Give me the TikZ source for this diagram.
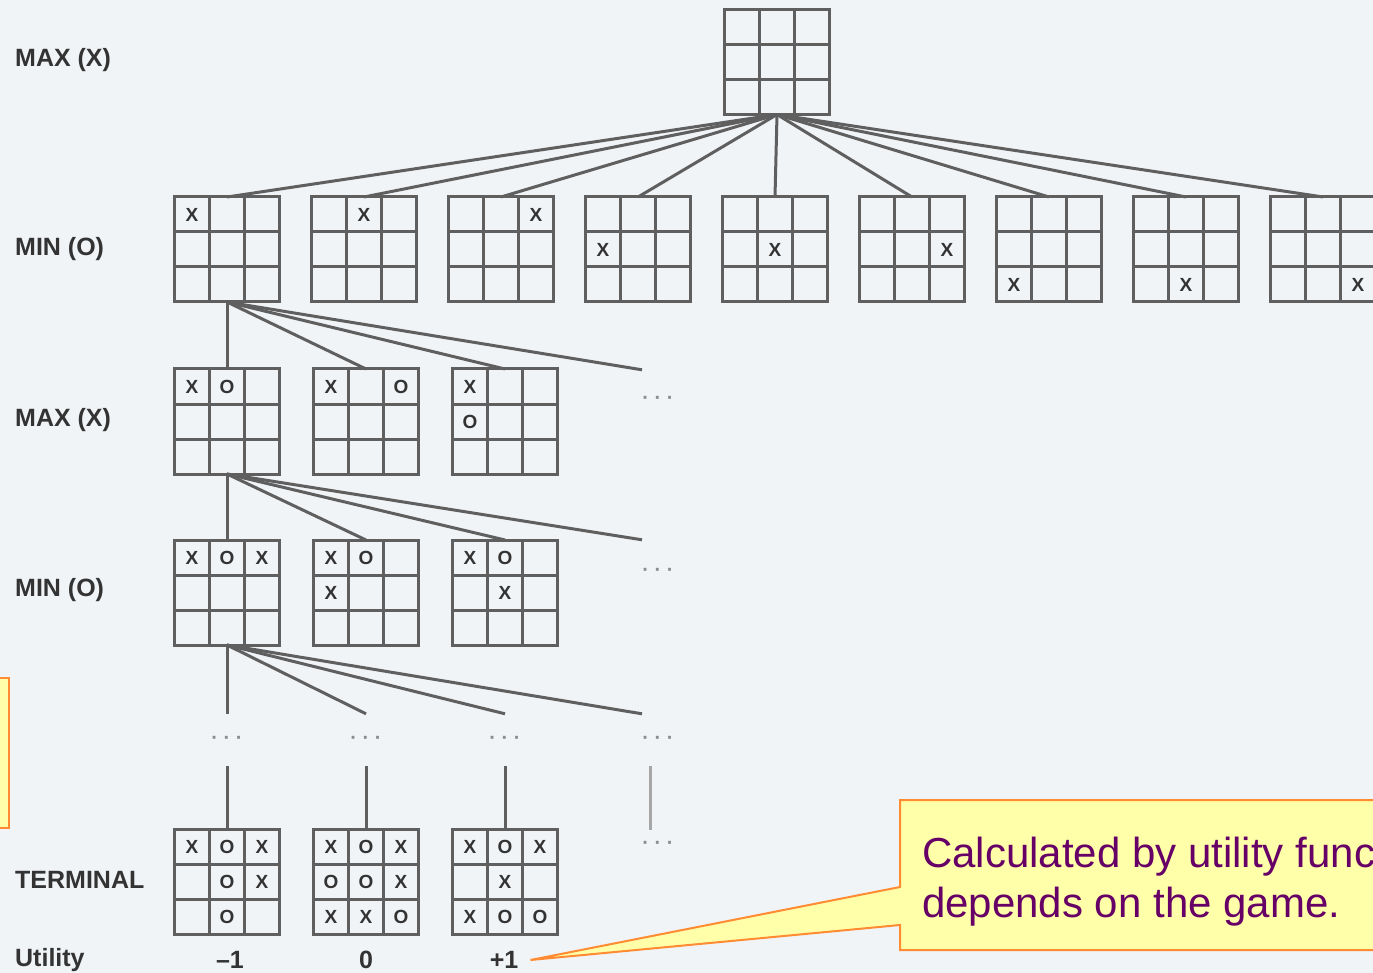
\documentclass[tikz,border=0pt]{standalone}
\usepackage{fontspec}
\setmainfont{Liberation Sans}
\usetikzlibrary{positioning}

\definecolor{bgcol}{RGB}{241,244,247}
\definecolor{linecol}{RGB}{95,95,95}
\definecolor{callfill}{RGB}{255,255,170}
\definecolor{calldraw}{RGB}{255,140,50}
\definecolor{calltext}{RGB}{102,0,102}

% a 3x3 board: name, placement
\newcommand{\drawboard}[2]{%
  \node[boardbox,#2] (#1) {};
  \foreach \i in {1,2} {
    \draw[gridline] ([xshift=\i*35pt]#1.north west) -- ([xshift=\i*35pt]#1.south west);
    \draw[gridline] ([yshift=-\i*35pt]#1.north west) -- ([yshift=-\i*35pt]#1.north east);
  }
}
% pieces on a board: name, list of col/row/piece
\newcommand{\putmarks}[2]{%
  \foreach \cx/\ry/\pc in {#2}
    \node[piece] at ([xshift=\cx*35pt-17.5pt, yshift=17.5pt-\ry*35pt]#1.north west) {\pc};
}

\begin{document}
\begin{tikzpicture}[
  x=1pt, y=-1pt,
  boardbox/.style={rectangle, draw=linecol, line width=3pt, minimum size=105pt, inner sep=0pt, outer sep=0pt},
  gridline/.style={draw=linecol, line width=3pt},
  piece/.style={font=\bfseries\fontsize{19}{19}\selectfont, text=black!80, inner sep=0pt},
  treeline/.style={draw=linecol, line width=3pt},
  rowlabel/.style={anchor=west, font=\bfseries\fontsize{25}{25}\selectfont, text=black!80, inner sep=0pt},
  moredots/.style={font=\bfseries\fontsize{20}{20}\selectfont, text=black!45, inner sep=0pt},
  callbox/.style={fill=callfill, draw=calldraw, line width=2pt, line join=miter},
  calltxt/.style={font=\fontsize{42}{50}\selectfont, text=calltext, inner sep=0pt}
]
  \clip (0,0) rectangle (1373,973);
  \fill[bgcol] (0,0) rectangle (1373,973);

  % row labels
  \node[rowlabel] (l1) at (15,60) {MAX (X)};
  \node[rowlabel] (l2) at (15,249) {MIN (O)};
  \node[rowlabel] (l3) at (15,420) {MAX (X)};
  \node[rowlabel] (l4) at (15,590) {MIN (O)};
  \node[rowlabel] (l5) at (15,880) {TERMINAL};
  \node[rowlabel] (l6) at (15,960) {Utility};

  % root
  \drawboard{root}{at={(777,62)}}

  % first moves
  \drawboard{b1}{at={(227,249.5)}}
  \drawboard{b2}{right=32pt of b1}
  \drawboard{b3}{right=32pt of b2}
  \drawboard{b4}{right=32pt of b3}
  \drawboard{b5}{right=32pt of b4}
  \drawboard{b6}{right=32pt of b5}
  \drawboard{b7}{right=32pt of b6}
  \drawboard{b8}{right=32pt of b7}
  \drawboard{b9}{right=32pt of b8}
  \putmarks{b1}{1/1/X}
  \putmarks{b2}{2/1/X}
  \putmarks{b3}{3/1/X}
  \putmarks{b4}{1/2/X}
  \putmarks{b5}{2/2/X}
  \putmarks{b6}{3/2/X}
  \putmarks{b7}{1/3/X}
  \putmarks{b8}{2/3/X}
  \putmarks{b9}{3/3/X}

  % second moves
  \drawboard{c1}{at={(227,421.5)}}
  \drawboard{c2}{right=34pt of c1}
  \drawboard{c3}{right=34pt of c2}
  \putmarks{c1}{1/1/X, 2/1/O}
  \putmarks{c2}{1/1/X, 3/1/O}
  \putmarks{c3}{1/1/X, 1/2/O}
  \node[moredots, minimum height=60pt] (g1) at (658,400) {· · ·};

  % third moves
  \drawboard{d1}{at={(227,592.5)}}
  \drawboard{d2}{right=34pt of d1}
  \drawboard{d3}{right=34pt of d2}
  \putmarks{d1}{1/1/X, 2/1/O, 3/1/X}
  \putmarks{d2}{1/1/X, 2/1/O, 1/2/X}
  \putmarks{d3}{1/1/X, 2/1/O, 2/2/X}
  \node[moredots, minimum height=64pt] (g2) at (658,572) {· · ·};

  % skipped levels
  \node[moredots, minimum height=52pt] (e1) at (227,740) {· · ·};
  \node[moredots, minimum height=52pt] (e2) at (366,740) {· · ·};
  \node[moredots, minimum height=52pt] (e3) at (505,740) {· · ·};
  \node[moredots, minimum height=52pt] (e4) at (658,740) {· · ·};
  \node[moredots, minimum height=30pt] (f4) at (658,845) {· · ·};

  % terminal states
  \drawboard{t1}{at={(227,881.5)}}
  \drawboard{t2}{right=34pt of t1}
  \drawboard{t3}{right=34pt of t2}
  \putmarks{t1}{1/1/X, 2/1/O, 3/1/X, 2/2/O, 3/2/X, 2/3/O}
  \putmarks{t2}{1/1/X, 2/1/O, 3/1/X, 1/2/O, 2/2/O, 3/2/X, 1/3/X, 2/3/X, 3/3/O}
  \putmarks{t3}{1/1/X, 2/1/O, 3/1/X, 2/2/X, 1/3/X, 2/3/O, 3/3/O}

  \node[rowlabel, anchor=center] (u1) at (230,960) {–1};
  \node[rowlabel, anchor=center] (u2) at (366,960) {0};
  \node[rowlabel, anchor=center] (u3) at (504,960) {+1};

  % tree edges
  \foreach \k in {1,...,9}
    \draw[treeline] (root.south) -- (b\k.north);
  \foreach \k in {1,2,3}
    \draw[treeline] (b1.south) -- (c\k.north);
  \draw[treeline] (b1.south) -- ([xshift=-16pt]g1.north);
  \foreach \k in {1,2,3}
    \draw[treeline] (c1.south) -- (d\k.north);
  \draw[treeline] (c1.south) -- ([xshift=-16pt]g2.north);
  \foreach \k in {1,2,3}
    \draw[treeline] (d1.south) -- (e\k.north);
  \draw[treeline] (d1.south) -- ([xshift=-16pt]e4.north);
  \foreach \k in {1,2,3}
    \draw[treeline] (e\k.south) -- (t\k.north);
  \draw[treeline, draw=black!35] ([xshift=-8pt]e4.south) -- ([xshift=-8pt]f4.north);

  % callouts
  \draw[callbox] (-20,678) rectangle (9,828);
  \coordinate (tip) at ([xshift=12pt]u3.east);
  \draw[callbox] (900,800) -- (1400,800) -- (1400,950) -- (900,950) -- (900,925)
    -- (tip) -- (900,887) -- cycle;
  \node[calltxt, anchor=base west] (note1) at (922,867) {Calculated by utility function,};
  \node[calltxt, anchor=base west] (note2) at (922,917) {depends on the game.};
\end{tikzpicture}
\end{document}
